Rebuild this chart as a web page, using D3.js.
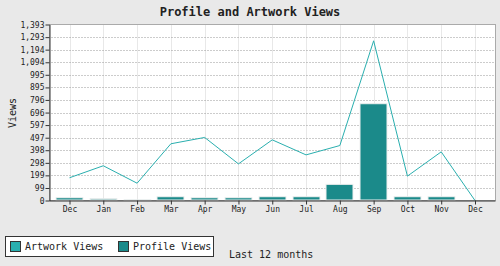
<!DOCTYPE html>
<html>
<head>
<meta charset="utf-8">
<script src="https://cdn.jsdelivr.net/npm/d3@7"></script>
<style>
  body { margin: 0; background: #e9e9e9; }
  text { font-family: "DejaVu Sans Mono", monospace; fill: #222; }
</style>
</head>
<body>
<div id="chartwrap"></div>
<script>
const WIDTH = 500;
const HEIGHT = 266;

const months = ['Dec', 'Jan', 'Feb', 'Mar', 'Apr', 'May', 'Jun', 'Jul', 'Aug', 'Sep', 'Oct', 'Nov', 'Dec'];
const artworkViews = [180, 275, 137, 449, 499, 290, 480, 361, 435, 1264, 193, 385, 0];
const profileViews = [18, 10, 1, 26, 18, 18, 26, 26, 124, 762, 26, 26, 0];
const yTicks = [0, 99, 199, 298, 398, 497, 597, 696, 796, 895, 995, 1094, 1194, 1293, 1393];

const plot = { left: 49.5, right: 495.5, top: 24.5, bottom: 200.5 };
const artColor = '#2aafaf';
const profColor = '#1b8a8a';

const idx = months.map((d, i) => i);

const xScale = d3.scalePoint()
  .domain(idx)
  .range([69.5, 475]);

const yScale = d3.scaleLinear()
  .domain([0, 1393])
  .range([plot.bottom, plot.top]);

const svg = d3.select('#chartwrap')
  .append('svg')
  .attr('width', WIDTH)
  .attr('height', HEIGHT)
  .style('display', 'block');

svg.append('rect')
  .attr('x', plot.left)
  .attr('y', plot.top)
  .attr('width', plot.right - plot.left)
  .attr('height', plot.bottom - plot.top)
  .attr('fill', '#fff')
  .attr('stroke', '#aaa');

// vertical grid
svg.selectAll('.vgrid')
  .data(idx)
  .enter()
  .append('line')
  .attr('x1', d => Math.round(xScale(d)) + 0.5)
  .attr('x2', d => Math.round(xScale(d)) + 0.5)
  .attr('y1', plot.top + 0.5)
  .attr('y2', plot.bottom)
  .attr('stroke', '#e8e8e8');

// horizontal dotted grid
svg.selectAll('.hgrid')
  .data(yTicks.slice(1, -1))
  .enter()
  .append('line')
  .attr('x1', plot.left + 2)
  .attr('x2', plot.right - 1)
  .attr('y1', d => Math.round(yScale(d)) + 0.5)
  .attr('y2', d => Math.round(yScale(d)) + 0.5)
  .attr('stroke', '#999')
  .attr('stroke-dasharray', '1,2');

const barW = 27;

svg.selectAll('.bar')
  .data(profileViews)
  .enter()
  .append('rect')
  .attr('class', 'bar')
  .attr('x', (d, i) => Math.round(xScale(i) - barW / 2))
  .attr('y', d => yScale(d) - 0.5)
  .attr('width', barW)
  .attr('height', d => plot.bottom - yScale(d))
  .attr('fill', profColor)
  .attr('stroke', '#f0f0f0')
  .attr('stroke-width', 1);

const line = d3.line()
  .x((d, i) => xScale(i))
  .y(d => yScale(d));

svg.append('path')
  .datum(artworkViews)
  .attr('d', line)
  .attr('fill', 'none')
  .attr('stroke', artColor)
  .attr('stroke-width', 1);

const yAxis = d3.axisLeft(yScale)
  .tickValues(yTicks)
  .tickSize(4)
  .tickSizeOuter(0)
  .tickFormat(d3.format(','));

svg.append('g')
  .attr('transform', `translate(${plot.left},0)`)
  .call(yAxis)
  .call(g => g.selectAll('text').style('font-size', '8px').attr('x', -5))
  .call(g => g.selectAll('line,path').attr('stroke', '#333'));

const xAxis = d3.axisBottom(xScale)
  .tickSize(4)
  .tickSizeOuter(0)
  .tickFormat(d => months[d]);

svg.append('g')
  .attr('transform', `translate(0,${plot.bottom})`)
  .call(xAxis)
  .call(g => g.select('.domain').attr('d', `M${plot.left},0.5H${plot.right}`))
  .call(g => g.selectAll('text').style('font-size', '8px').attr('y', 6))
  .call(g => g.selectAll('line,path').attr('stroke', '#333'));

svg.append('text')
  .attr('x', 250)
  .attr('y', 16)
  .attr('text-anchor', 'middle')
  .style('font-size', '12px')
  .style('font-weight', 'bold')
  .text('Profile and Artwork Views');

svg.append('text')
  .attr('transform', 'translate(16,113) rotate(-90)')
  .attr('text-anchor', 'middle')
  .style('font-size', '10px')
  .text('Views');

// legend
const legend = svg.append('g');
legend.append('rect')
  .attr('x', 5.5)
  .attr('y', 236.5)
  .attr('width', 208)
  .attr('height', 20)
  .attr('fill', '#fff')
  .attr('stroke', '#333')
  .attr('stroke-width', 1);

const legendItems = [
  { label: 'Artwork Views', color: artColor, x: 10 },
  { label: 'Profile Views', color: profColor, x: 118 }
];

legend.selectAll('.sw')
  .data(legendItems)
  .enter()
  .append('rect')
  .attr('x', d => d.x + 0.5)
  .attr('y', 241.5)
  .attr('width', 10)
  .attr('height', 10)
  .attr('fill', d => d.color)
  .attr('stroke', '#333');

legend.selectAll('.lt')
  .data(legendItems)
  .enter()
  .append('text')
  .attr('x', d => d.x + 15)
  .attr('y', 250)
  .style('font-size', '10px')
  .text(d => d.label);

svg.append('text')
  .attr('x', 229)
  .attr('y', 258)
  .style('font-size', '10px')
  .text('Last 12 months');
</script>
</body>
</html>
